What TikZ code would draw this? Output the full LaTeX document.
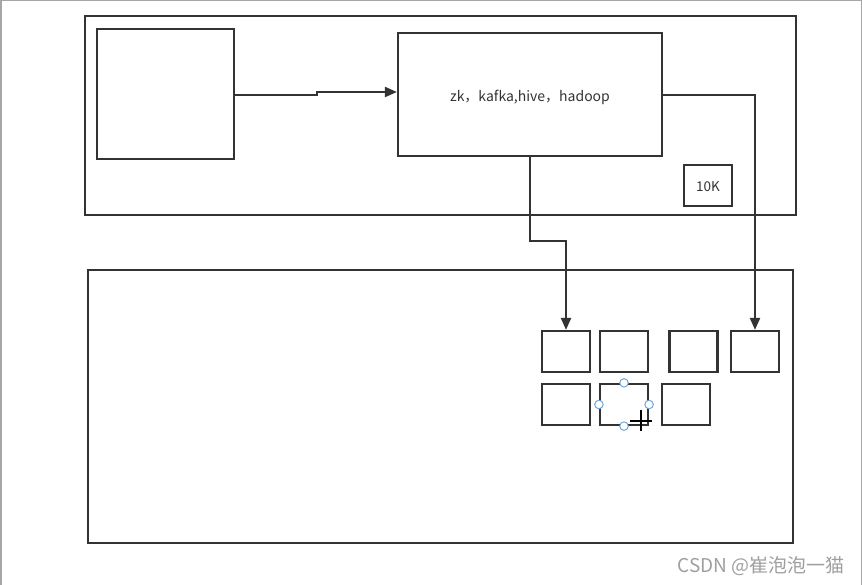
\documentclass[tikz,border=0pt]{standalone}
\usepackage{fontspec}
\setmainfont{Noto Sans CJK SC}
\usetikzlibrary{arrows.meta}
\definecolor{ink}{HTML}{333333}
\definecolor{handle}{HTML}{6FA8DC}
\begin{document}
\begin{tikzpicture}[x=1pt,y=-1pt,
  box/.style={draw=ink,line width=2.2pt,fill=none,inner sep=0pt,anchor=center},
  conn/.style={draw=ink,line width=2.2pt},
  arr/.style={conn,-{Triangle[length=12pt,width=10pt]}},
  lbl/.style={text=ink,font=\fontsize{14}{16}\selectfont},
  hnd/.style={draw=handle,fill=white,line width=1pt,circle,inner sep=0pt,minimum size=8.5pt}]
\useasboundingbox (0,0) rectangle (862,585);
\draw[gray!70,line width=1.5pt] (0.75,585) -- (0.75,0.75) -- (861.25,0.75) -- (861.25,585);
% outer boxes
\node[box,minimum width=711pt,minimum height=199pt] (top) at (440.5,115.5) {};
\node[box,minimum width=705pt,minimum height=273pt] (bottom) at (440.5,406.5) {};
% top contents
\node[box,minimum width=137pt,minimum height=130pt] (src) at (165.5,94) {};
\node[box,minimum width=264pt,minimum height=123pt] (svc) at (530,94.5) {};
\node[lbl] (svct) at (530,97) {zk，kafka,hive，hadoop};
\node[box,minimum width=48pt,minimum height=41pt] (tenk) at (708,185.5) {};
\node[lbl,font=\fontsize{13.5}{15}\selectfont] (tenkt) at (708,187) {10K};
% small boxes
\node[box,minimum width=48pt,minimum height=41pt] (s1) at (566,351.5) {};
\node[box,minimum width=48pt,minimum height=41pt] (s2) at (624,351.5) {};
\node[box,minimum width=48pt,minimum height=41pt] (s3) at (693.5,351.5) {};
\node[box,minimum width=48pt,minimum height=41pt] (s4) at (755,351.5) {};
\node[box,minimum width=48pt,minimum height=41pt] (s5) at (566,404.5) {};
\node[box,minimum width=48pt,minimum height=41pt] (s6) at (624,404.5) {};
\node[box,minimum width=48pt,minimum height=41pt] (s7) at (686,404.5) {};
% connectors
\coordinate (j1) at (317,95);
\coordinate (j2) at (317,92);
\draw[arr] (src.east |- j1) -- (j1) -- (j2) -- (svc.west |- j2);
\coordinate (k1) at (530,241);
\draw[arr] (svc.south -| k1) -- (k1) -| (s1.north);
\coordinate (m1) at (662,95);
\draw[arr] (svc.east |- m1) -| (s4.north);
% selection handles
\node[hnd] (h1) at (s6.north) {};
\node[hnd] (h2) at (s6.west) {};
\node[hnd] (h3) at (s6.east) {};
\node[hnd] (h4) at (s6.south) {};
% cursor
\coordinate (cur) at (641,421);
\draw[black,line width=1.6pt] ([yshift=-10pt]cur) -- ([yshift=11pt]cur);
\draw[black,line width=1.6pt] ([xshift=-11pt]cur) -- ([xshift=11pt]cur);
% watermark
\node[text=gray!75,font=\fontsize{19}{21}\selectfont,anchor=east] (wm) at (848,566) {CSDN @崔泡泡一猫};
\end{tikzpicture}
\end{document}
